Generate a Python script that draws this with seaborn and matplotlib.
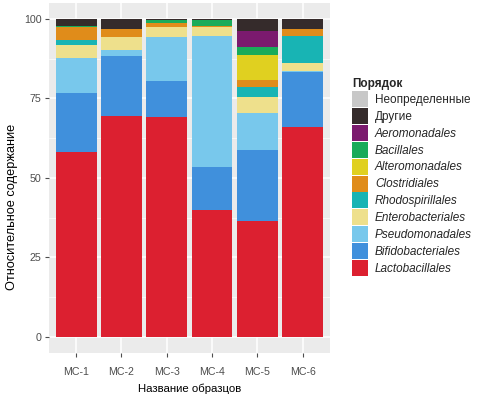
import pandas as pd
import seaborn as sns
import matplotlib.pyplot as plt
from matplotlib.patches import Patch

# Data (relative abundance, %)
samples = ["МС-1", "МС-2", "МС-3", "МС-4", "МС-5", "МС-6"]
orders = ["Неопределенные", "Другие", "Aeromonadales", "Bacillales", "Alteromonadales",
          "Clostridiales", "Rhodospirillales", "Enterobacteriales", "Pseudomonadales",
          "Bifidobacteriales", "Lactobacillales"]
unclassified = [0.0, 0.0, 0.0, 0.0, 0.0, 0.0]
others = [2.1, 3.2, 0.4, 0.3, 3.6, 3.2]
aeromonadales = [0.0, 0.0, 0.0, 0.0, 5.1, 0.0]
bacillales = [0.4, 0.0, 0.7, 1.8, 2.6, 0.0]
alteromonadales = [0.0, 0.0, 0.0, 0.0, 7.7, 0.0]
clostridiales = [4.2, 2.6, 1.4, 0.4, 2.3, 2.0]
rhodospirillales = [1.5, 0.0, 0.0, 0.0, 3.1, 8.7]
enterobacteriales = [4.2, 3.8, 3.3, 2.7, 5.0, 2.3]
pseudomonadales = [10.9, 2.0, 13.8, 41.4, 11.8, 0.6]
bifidobacteriales = [18.7, 18.8, 11.1, 13.4, 22.2, 17.2]
lactobacillales = [58.0, 69.6, 69.3, 40.0, 36.5, 66.0]

colors = ["#c8c8c8", "#352b2b", "#7b1a6e", "#1aab5a", "#e0d020", "#e08c1a",
          "#18b4b4", "#eee08c", "#78c8ec", "#4090dc", "#dc2030"]

values = [unclassified, others, aeromonadales, bacillales, alteromonadales, clostridiales,
          rhodospirillales, enterobacteriales, pseudomonadales, bifidobacteriales, lactobacillales]
rows = []
for order, vals in zip(orders, values):
    for s, v in zip(samples, vals):
        rows.append({"sample": s, "order": order, "value": v})
df = pd.DataFrame(rows)
df["sample"] = pd.Categorical(df["sample"], categories=samples)

sns.set_theme(style="darkgrid", rc={
    "axes.facecolor": "#ebebeb",
    "grid.color": "white",
    "axes.edgecolor": "#ebebeb",
})
plt.rcParams["font.family"] = ["Liberation Sans", "DejaVu Sans"]

fig = plt.figure(figsize=(4.85, 3.97), dpi=100)
ax = fig.add_axes([0.101, 0.112, 0.579, 0.880])

sns.histplot(
    data=df, x="sample", weights="value", hue="order", hue_order=orders,
    palette=colors, multiple="stack", discrete=True, shrink=0.9,
    linewidth=0, alpha=1, legend=False, ax=ax,
)

ax.set_xlim(-0.6, 5.6)
ax.set_ylim(-5, 105)
ax.set_yticks([0, 25, 50, 75, 100])
ax.set_yticks([12.5, 37.5, 62.5, 87.5], minor=True)
ax.grid(True, which="major", color="white", linewidth=1.1)
ax.grid(True, which="minor", axis="y", color="white", linewidth=0.5)
ax.set_axisbelow(True)
for sp in ax.spines.values():
    sp.set_visible(False)
ax.tick_params(axis="both", which="major", length=3, width=0.8, color="#4d4d4d",
               labelsize=7.7, labelcolor="#4d4d4d", bottom=True, left=True)
ax.tick_params(axis="x", which="major", pad=7.3)
ax.tick_params(axis="y", which="major", pad=2.5)
ax.tick_params(axis="both", which="minor", length=0)
ax.set_xlabel("Название образцов", fontsize=8.2, color="black", labelpad=5)
ax.set_ylabel("Относительное содержание", fontsize=9.2, color="black")
ax.yaxis.set_label_coords(-0.11, 0.418)

# Legend
handles = [Patch(facecolor=c, edgecolor="none") for c in colors]
leg = fig.legend(handles, orders, loc="upper left", bbox_to_anchor=(0.716, 0.815),
                 frameon=False, fontsize=8.5, title="Порядок",
                 title_fontproperties={"weight": "bold", "size": 8.5},
                 handlelength=1.355, handleheight=1.708, labelspacing=0.076,
                 handletextpad=0.59, borderaxespad=0)
leg._legend_box.align = "left"
for t in leg.get_texts()[2:]:
    t.set_fontstyle("italic")

fig.savefig("out.png", dpi=100)
